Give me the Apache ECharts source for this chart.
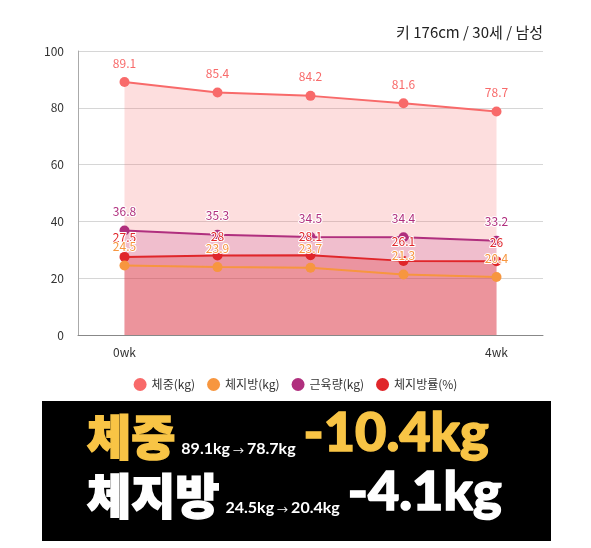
<!DOCTYPE html>
<html>
<head>
<meta charset="utf-8">
<script src="https://cdn.jsdelivr.net/npm/echarts@6/dist/echarts.min.js"></script>
<style>
  html, body { margin: 0; padding: 0; background: #fff; }
  #chart { width: 591px; height: 548px; }
</style>
</head>
<body>
<div id="chart"></div>
<script>
// 주차별 측정값
const weeks = ['0wk', '1wk', '2wk', '3wk', '4wk'];
const weight = [89.1, 85.4, 84.2, 81.6, 78.7];
const fatMass = [24.5, 23.9, 23.7, 21.3, 20.4];
const muscle = [36.8, 35.3, 34.5, 34.4, 33.2];
const fatRate = [27.5, 28, 28.1, 26.1, 26];
const seriesNames = ['체중(kg)', '체지방(kg)', '근육량(kg)', '체지방률(%)'];
const colors = ['#f86a6a', '#f7963f', '#b02f7e', '#e0262a'];

const font = '"Noto Sans CJK KR", "Noto Sans", sans-serif';
const numFont = 'Lato, "Noto Sans", sans-serif';
const chart = echarts.init(document.getElementById('chart'), null, { renderer: 'canvas' });

const makeSeries = (name, data, color, areaOpacity, z) => ({
    name,
    type: 'line',
    data,
    z,
    symbol: 'circle',
    symbolSize: 10,
    lineStyle: { width: 2, color },
    itemStyle: { color },
    areaStyle: { color, opacity: areaOpacity },
    label: {
        show: true,
        position: 'top',
        distance: 8,
        color,
        fontSize: 12,
        fontFamily: font,
        textBorderColor: '#fff',
        textBorderWidth: 2
    }
});

const first = weight[0], last = weight[weight.length - 1];
const fFirst = fatMass[0], fLast = fatMass[fatMass.length - 1];

// 굵은 글씨를 더 두껍게 보이도록 같은 색 외곽선(stroke)을 씌움
const summaryRich = (titleColor) => ({
    t: { fontSize: 48, fontWeight: 900, fill: titleColor, fontFamily: font, verticalAlign: 'bottom', lineHeight: 56,
         padding: [0, 6, 0, 0], stroke: titleColor, lineWidth: 1.5, lineJoin: 'round' },
    s: { fontSize: 16, fontWeight: 700, fill: '#fff', fontFamily: numFont, verticalAlign: 'bottom', lineHeight: 20, padding: [0, 0, 4, 0] },
    a: { fontSize: 11, fontWeight: 400, fill: '#fff', fontFamily: font, verticalAlign: 'bottom', lineHeight: 20, padding: [0, 3, 5, 3] },
    b: { fontSize: 54, fontWeight: 900, fill: titleColor, fontFamily: numFont, verticalAlign: 'bottom', lineHeight: 50,
         padding: [0, 0, 0, 8], stroke: titleColor, lineWidth: 1.5, lineJoin: 'round' }
});

const summaryText = (title, from, to) =>
    '{t|' + title + '}{s|' + from + 'kg}{a|→}{s|' + to + 'kg}{b|-' + (from - to).toFixed(1) + 'kg}';

chart.setOption({
    animation: false,
    color: colors,
    textStyle: { fontFamily: font },
    grid: { left: 78, right: 48, top: 51, bottom: 213 },
    legend: {
        bottom: 152,
        left: 'center',
        icon: 'circle',
        itemWidth: 13,
        itemHeight: 13,
        itemGap: 12,
        textStyle: { fontSize: 12, color: '#333', fontFamily: font },
        data: seriesNames
    },
    xAxis: {
        type: 'category',
        data: weeks,
        axisLine: { lineStyle: { color: '#888' } },
        axisTick: { show: false },
        axisLabel: {
            color: '#333',
            fontSize: 12,
            margin: 11,
            interval: (i) => i === 0 || i === weeks.length - 1
        }
    },
    yAxis: {
        type: 'value',
        min: 0,
        max: 100,
        interval: 20,
        axisLine: { show: true, lineStyle: { color: '#aaa' } },
        axisLabel: { color: '#333', fontSize: 12, margin: 14 },
        splitLine: { lineStyle: { color: '#d6d6d6' } }
    },
    series: [
        makeSeries(seriesNames[0], weight, colors[0], 0.22, 2),
        makeSeries(seriesNames[1], fatMass, colors[1], 0.04, 5),
        makeSeries(seriesNames[2], muscle, colors[2], 0.18, 3),
        makeSeries(seriesNames[3], fatRate, colors[3], 0.28, 4)
    ],
    graphic: [
        {
            type: 'text',
            right: 48,
            top: 25,
            style: { text: '키 176cm / 30세 / 남성', fontSize: 15, fill: '#222', fontFamily: font }
        },
        {
            type: 'rect',
            shape: { x: 42, y: 401, width: 509, height: 140 },
            style: { fill: '#000' }
        },
        {
            type: 'text',
            x: 87,
            y: 405,
            style: { text: summaryText('체중', first, last), rich: summaryRich('#f8c445') }
        },
        {
            type: 'text',
            x: 87,
            y: 464,
            style: { text: summaryText('체지방', fFirst, fLast), rich: summaryRich('#fff') }
        }
    ]
});

window.addEventListener('resize', () => chart.resize());
</script>
</body>
</html>
